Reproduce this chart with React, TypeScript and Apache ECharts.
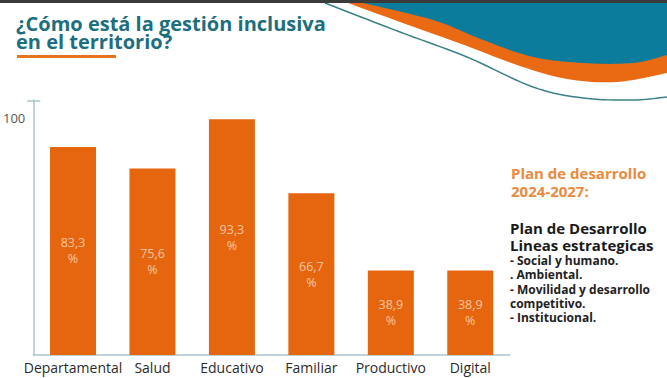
import React, { useEffect, useRef } from "react";
import * as echarts from "echarts";

const categories = ["Departamental", "Salud", "Educativo", "Familiar", "Productivo", "Digital"];
const values = [83.3, 75.6, 93.3, 66.7, 38.9, 38.9];
const yTickValues = [100];
const titleLines = ["¿Cómo está la gestión inclusiva", "en el territorio?"];
const planTitle = ["Plan de desarrollo", "2024-2027:"];
const planSub = ["Plan de Desarrollo", "Lineas estrategicas"];
const planItems = ["- Social y humano.", ". Ambiental.", "- Movilidad y desarrollo", "competitivo.", "- Institucional."];

// decorative wave guide points (page decoration, not data)
const orangeEdge = [[667, 73], [617, 82], [567, 79], [517, 65], [467, 46], [400, 22], [348, 3]];
const tealEdge = [[667, 55], [633, 63], [583, 63], [533, 57], [483, 40], [433, 20], [363, 3]];
const lineEdge = [[325, 3], [400, 32], [467, 57], [533, 87], [583, 98], [633, 100], [667, 97]];

function catmull(pts: number[][], steps = 10): number[][] {
  const out: number[][] = [];
  for (let i = 0; i < pts.length - 1; i++) {
    const p0 = pts[Math.max(0, i - 1)];
    const p1 = pts[i];
    const p2 = pts[i + 1];
    const p3 = pts[Math.min(pts.length - 1, i + 2)];
    for (let s = 0; s < steps; s++) {
      const t = s / steps;
      const t2 = t * t;
      const t3 = t2 * t;
      const f = (a: number, b: number, c: number, d: number) =>
        0.5 * (2 * b + (-a + c) * t + (2 * a - 5 * b + 4 * c - d) * t2 + (-a + 3 * b - 3 * c + d) * t3);
      out.push([f(p0[0], p1[0], p2[0], p3[0]), f(p0[1], p1[1], p2[1], p3[1])]);
    }
  }
  out.push(pts[pts.length - 1]);
  return out;
}

export default function App() {
  const ref = useRef<HTMLDivElement>(null);
  useEffect(() => {
    if (!ref.current) return;
    const chart = echarts.init(ref.current, null, { renderer: "svg" });
    const font = "'Open Sans', 'Noto Sans', sans-serif";
    const orangePts = [[348, 3], [667, 3], ...catmull(orangeEdge)];
    const tealPts = [[363, 3], [667, 3], ...catmull(tealEdge)];
    const linePts = catmull(lineEdge);
    const graphics: any[] = [
      { type: "polygon", shape: { points: orangePts }, style: { fill: "#ea6a14" }, z: 1 },
      { type: "polygon", shape: { points: tealPts }, style: { fill: "#0b7c9c" }, z: 2 },
      { type: "polyline", shape: { points: linePts }, style: { fill: "none", stroke: "#3a8088", lineWidth: 1.5 }, z: 2 },
      { type: "rect", shape: { x: 0, y: 0, width: 667, height: 3 }, style: { fill: "#3a3a3a" }, z: 10 },
      {
        type: "text", x: 16, y: 23, z: 5,
        style: { text: titleLines[0], font: `bold 20px ${font}`, fill: "#1b6f80", lineHeight: 18, verticalAlign: "middle" },
      },
      {
        type: "text", x: 16, y: 41, z: 5,
        style: { text: titleLines[1], font: `bold 20px ${font}`, fill: "#1b6f80", lineHeight: 18, verticalAlign: "middle" },
      },
      { type: "rect", shape: { x: 17, y: 55, width: 99, height: 3 }, style: { fill: "#e8731e" }, z: 5 },
      {
        type: "text", x: 511, y: 164, z: 5,
        style: { text: planTitle.join("\n"), font: `bold 15px ${font}`, fill: "#ea8a3c", lineHeight: 18 },
      },
      {
        type: "text", x: 510, y: 219, z: 5,
        style: { text: planSub.join("\n"), font: `bold 15px ${font}`, fill: "#1a1a1a", lineHeight: 17 },
      },
      {
        type: "text", x: 510, y: 253, z: 5,
        style: { text: planItems.join("\n"), font: `bold 12px ${font}`, fill: "#222222", lineHeight: 14.4 },
      },
    ];
    chart.setOption({
      animation: false,
      backgroundColor: "#ffffff",
      textStyle: { fontFamily: font },
      graphic: graphics,
      grid: { left: 30, right: 157, top: 100, bottom: 23, containLabel: false },
      xAxis: {
        type: "category",
        data: categories,
        axisLine: { show: true, lineStyle: { color: "#a9c4cd", width: 1.5 } },
        axisTick: { show: false },
        axisLabel: { color: "#2b2b2b", fontSize: 14, margin: 5, interval: 0 },
      },
      yAxis: [
        {
          type: "value",
          min: 8.5,
          max: 100.2,
          axisLine: { show: true, lineStyle: { color: "#a9c4cd", width: 1.5 } },
          axisTick: { show: true, length: 6, customValues: yTickValues, lineStyle: { color: "#a9c4cd", width: 1.5 } },
          axisLabel: {
            show: true, customValues: yTickValues, color: "#555555", fontSize: 13, margin: 8,
            verticalAlign: "top", padding: [11, 0, 0, 0],
          },
          splitLine: { show: false },
        },
        {
          type: "value",
          position: "left",
          min: 8.5,
          max: 100.2,
          axisLine: { show: false },
          axisTick: { show: true, inside: true, length: 7, customValues: yTickValues, lineStyle: { color: "#a9c4cd", width: 1.5 } },
          axisLabel: { show: false },
          splitLine: { show: false },
        },
      ],
      series: [
        {
          type: "bar",
          data: values,
          barWidth: 46,
          clip: true,
          itemStyle: { color: "#e6650f" },
          label: {
            show: true,
            position: "inside",
            color: "#f7c6a0",
            fontSize: 12.5,
            lineHeight: 16,
            formatter: (p: any) => String(p.value).replace(".", ",") + "\n%",
          },
        },
      ],
    });
    return () => chart.dispose();
  }, []);
  return <div ref={ref} style={{ position: "fixed", left: 0, top: 0, width: 667, height: 378 }} />;
}
